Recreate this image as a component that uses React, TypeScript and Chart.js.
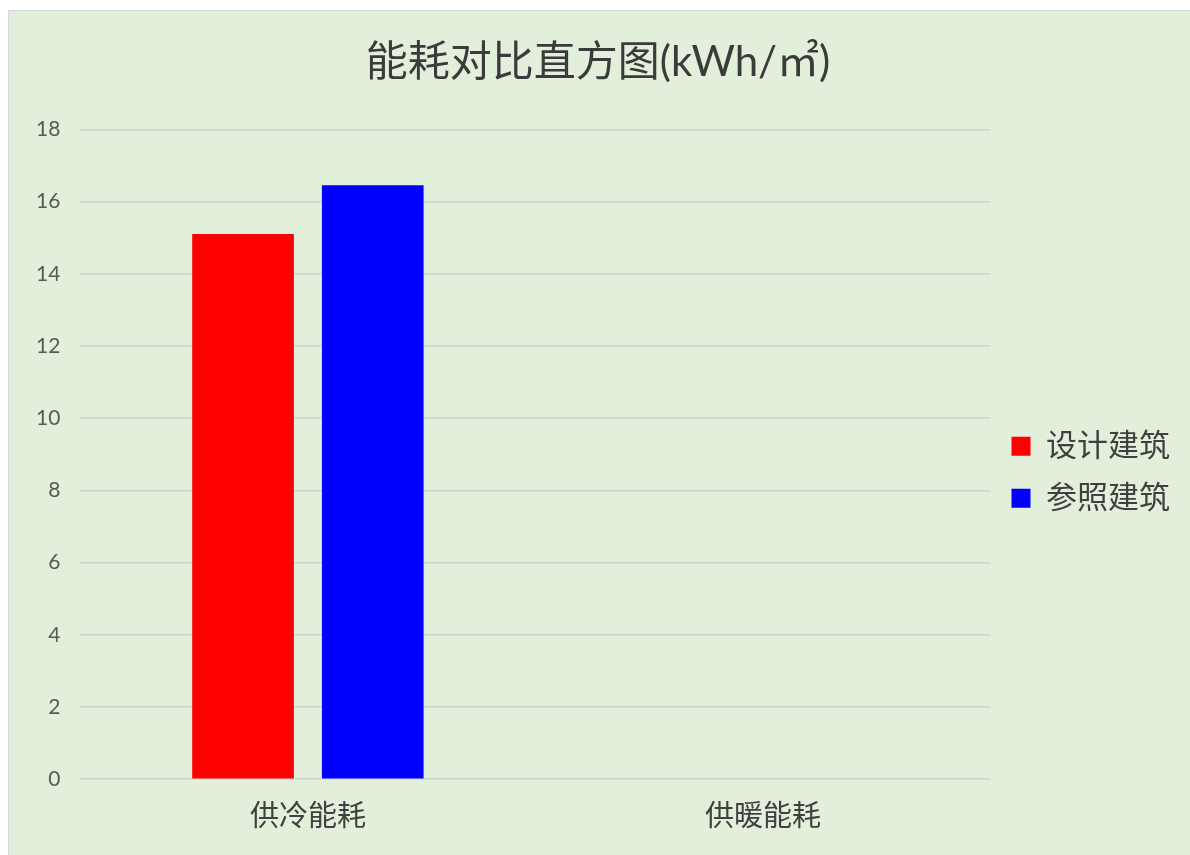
import React, { useEffect, useRef } from "react";
import { Chart, registerables } from "chart.js";

Chart.register(...registerables);

const titleText = "能耗对比直方图(kWh/㎡)";
const categories = ["供冷能耗", "供暖能耗"];
const seriesNames = ["设计建筑", "参照建筑"];
const designValues = [15.1, 0];
const referenceValues = [16.45, 0];
const seriesColors = ["#FF0000", "#0000FF"];
const yMin = 0;
const yMax = 18;
const yStep = 2;

const FONT = "Lato, 'Noto Sans CJK SC', sans-serif";

export default function App() {
  const ref = useRef<HTMLCanvasElement | null>(null);

  useEffect(() => {
    if (!ref.current) return;
    const chart = new Chart(ref.current, {
      type: "bar",
      data: {
        labels: categories,
        datasets: [
          {
            label: seriesNames[0],
            data: designValues,
            backgroundColor: seriesColors[0],
            borderWidth: 0,
          },
          {
            label: seriesNames[1],
            data: referenceValues,
            backgroundColor: seriesColors[1],
            borderWidth: 0,
          },
        ],
      },
      options: {
        animation: false,
        responsive: false,
        maintainAspectRatio: false,
        layout: { padding: { left: 7, right: 10, top: 0, bottom: 1 } },
        datasets: {
          bar: { categoryPercentage: 0.57, barPercentage: 0.784 },
        },
        plugins: {
          title: {
            display: true,
            text: titleText,
            color: "#3b3b3b",
            font: { family: FONT, size: 42, weight: "normal" },
            padding: { top: 26, bottom: 42 },
          },
          legend: {
            display: true,
            position: "right",
            align: "center",
            fullSize: false,
            title: { display: true, text: "", padding: 0, font: { size: 30 } },
            labels: {
              boxWidth: 19,
              boxHeight: 19,
              padding: 21,
              color: "#404040",
              font: { family: FONT, size: 31 },
            },
          },
          tooltip: { enabled: false },
        },
        scales: {
          x: {
            grid: { display: false, drawTicks: false },
            border: { display: false },
            ticks: {
              color: "#404040",
              padding: 20,
              font: { family: FONT, size: 29 },
            },
          },
          y: {
            min: yMin,
            max: yMax,
            ticks: {
              stepSize: yStep,
              color: "#595959",
              padding: 20,
              font: { family: FONT, size: 21 },
            },
            grid: { color: "#D1D4CE", lineWidth: 1.5, drawTicks: false },
            border: { display: false },
          },
        },
      },
    });
    return () => chart.destroy();
  }, []);

  return (
    <div
      style={{
        position: "absolute",
        left: 8,
        top: 10,
        width: 1182,
        height: 845,
        background: "#E2EFDA",
        borderTop: "1px solid #D6D6D6",
        borderLeft: "1px solid #D6D6D6",
        boxSizing: "border-box",
      }}
    >
      <canvas ref={ref} width={1181} height={844} style={{ display: "block" }} />
    </div>
  );
}
